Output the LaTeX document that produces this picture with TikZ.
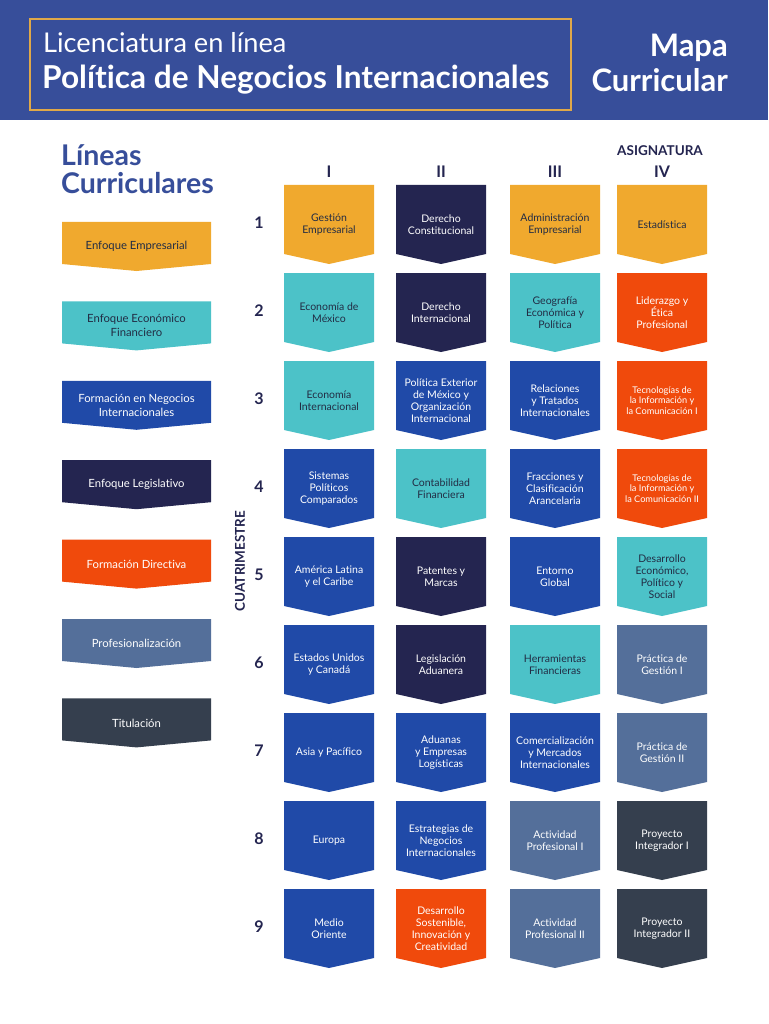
\documentclass[tikz,border=0pt]{standalone}
\usepackage{fontspec}
\setmainfont{Lato}[Ligatures=NoCommon]
\usetikzlibrary{positioning}
\definecolor{color1}{RGB}{240,169,46}
\definecolor{color2}{RGB}{76,194,200}
\definecolor{color3}{RGB}{32,74,168}
\definecolor{color4}{RGB}{36,37,80}
\definecolor{color5}{RGB}{240,74,12}
\definecolor{color6}{RGB}{84,111,154}
\definecolor{color7}{RGB}{53,63,78}
\definecolor{color8}{RGB}{55,78,154}
\definecolor{color9}{RGB}{224,168,72}
\definecolor{color10}{RGB}{34,44,68}

\begin{document}
\begin{tikzpicture}[x=1pt,y=-1pt,
  punta/.style 2 args={fill=white,
    path picture={\fill[#1] (path picture bounding box.north west)
      -- (path picture bounding box.north east)
      -- ([yshift=#2]path picture bounding box.south east)
      -- (path picture bounding box.south)
      -- ([yshift=#2]path picture bounding box.south west) -- cycle;}},
  materia/.style 2 args={punta={#1}{10pt}, text=#2, minimum width=90pt,
    minimum height=79pt, inner sep=1pt, align=center,
    font=\fontsize{10.5}{11.8}\selectfont},
  linea/.style 2 args={punta={#1}{7pt}, text=#2, minimum width=149pt,
    minimum height=49pt, inner sep=1pt, align=center,
    font=\fontsize{11.3}{14}\selectfont},
  empresa/.style={materia={color1}{color10}},
  economia/.style={materia={color2}{color10}},
  negocios/.style={materia={color3}{white}},
  legis/.style={materia={color4}{white}},
  directiva/.style={materia={color5}{white}},
  profes/.style={materia={color6}{white}},
  titul/.style={materia={color7}{white}},
  numero/.style={inner sep=0pt, text=color4, font=\bfseries\fontsize{16}{18}\selectfont},
  letrero/.style={inner sep=0pt, text=color4, font=\bfseries\fontsize{13.5}{16}\selectfont}]

\useasboundingbox (0,0) rectangle (768,1024);
\fill[white] (0,0) rectangle (768,1024);

% encabezado
\fill[color8] (0,0) rectangle (768,120);
\draw[color9, line width=1.5pt] (30,19) rectangle (571,110);
\node[anchor=west, inner sep=0pt, text=white, font=\fontsize{27.2}{30}\selectfont] (lic) at (43,43) {Licenciatura en línea};
\node[anchor=west, inner sep=0pt, text=white, font=\bfseries\fontsize{31.6}{34}\selectfont] (pol) at (42,80) {Política de Negocios Internacionales};
\node[anchor=east, inner sep=0pt, text=white, font=\bfseries\fontsize{31}{34}\selectfont] (mapa) at (728,48) {Mapa};
\node[anchor=east, inner sep=0pt, text=white, font=\bfseries\fontsize{31}{34}\selectfont] (curr) at (728,80) {Curricular};

% lineas curriculares
\node[anchor=west, inner sep=0pt, text=color8, font=\bfseries\fontsize{28.5}{32}\selectfont] (lin) at (61,155) {Líneas};
\node[anchor=west, inner sep=0pt, text=color8, font=\bfseries\fontsize{28.5}{32}\selectfont] (cur) at (61,183) {Curriculares};

\node[linea={color1}{color10}] (l1) at (136.5,246.5) {Enfoque Empresarial};
\node[linea={color2}{color10}, below=30pt of l1] (l2) {Enfoque Económico\\Financiero};
\node[linea={color3}{white}, below=30pt of l2] (l3) {Formación en Negocios\\Internacionales};
\node[linea={color4}{white}, below=30pt of l3] (l4) {Enfoque Legislativo};
\node[linea={color5}{white}, below=30pt of l4] (l5) {Formación Directiva};
\node[linea={color6}{white}, below=30pt of l5] (l6) {Profesionalización};
\node[linea={color7}{white}, below=30pt of l6] (l7) {Titulación};

% cuatrimestre 1
\node[empresa] (m11) at (329,224.5) {Gestión\\Empresarial};
\node[legis] (m12) at (441,224.5) {Derecho\\Constitucional};
\node[empresa] (m13) at (555,224.5) {Administración\\Empresarial};
\node[empresa] (m14) at (662,224.5) {Estadística};

% cuatrimestre 2
\node[economia] (m21) at (329,312.5) {Economía de\\México};
\node[legis] (m22) at (441,312.5) {Derecho\\Internacional};
\node[economia] (m23) at (555,312.5) {Geografía\\Económica y\\Política};
\node[directiva] (m24) at (662,312.5) {Liderazgo y\\Ética\\Profesional};

% cuatrimestre 3
\node[economia] (m31) at (329,400.5) {Economía\\Internacional};
\node[negocios] (m32) at (441,400.5) {Política Exterior\\de México y\\Organización\\Internacional};
\node[negocios] (m33) at (555,400.5) {Relaciones\\y Tratados\\Internacionales};
\node[directiva, font=\fontsize{9.2}{10.8}\selectfont] (m34) at (662,400.5) {Tecnologías de\\la Información y\\la Comunicación I};

% cuatrimestre 4
\node[negocios] (m41) at (329,488.5) {Sistemas\\Políticos\\Comparados};
\node[economia] (m42) at (441,488.5) {Contabilidad\\Financiera};
\node[negocios] (m43) at (555,488.5) {Fracciones y\\Clasificación\\Arancelaria};
\node[directiva, font=\fontsize{9.2}{10.8}\selectfont] (m44) at (662,488.5) {Tecnologías de\\la Información y\\la Comunicación II};

% cuatrimestre 5
\node[negocios] (m51) at (329,576.5) {América Latina\\y el Caribe};
\node[legis] (m52) at (441,576.5) {Patentes y\\Marcas};
\node[negocios] (m53) at (555,576.5) {Entorno\\Global};
\node[economia] (m54) at (662,576.5) {Desarrollo\\Económico,\\Político y\\Social};

% cuatrimestre 6
\node[negocios] (m61) at (329,664.5) {Estados Unidos\\y Canadá};
\node[legis] (m62) at (441,664.5) {Legislación\\Aduanera};
\node[economia] (m63) at (555,664.5) {Herramientas\\Financieras};
\node[profes] (m64) at (662,664.5) {Práctica de\\Gestión I};

% cuatrimestre 7
\node[negocios] (m71) at (329,752.5) {Asia y Pacífico};
\node[negocios] (m72) at (441,752.5) {Aduanas\\y Empresas\\Logísticas};
\node[negocios] (m73) at (555,752.5) {Comercialización\\y Mercados\\Internacionales};
\node[profes] (m74) at (662,752.5) {Práctica de\\Gestión II};

% cuatrimestre 8
\node[negocios] (m81) at (329,840.5) {Europa};
\node[negocios] (m82) at (441,840.5) {Estrategias de\\Negocios\\Internacionales};
\node[profes] (m83) at (555,840.5) {Actividad\\Profesional I};
\node[titul] (m84) at (662,840.5) {Proyecto\\Integrador I};

% cuatrimestre 9
\node[negocios] (m91) at (329,928.5) {Medio\\Oriente};
\node[directiva] (m92) at (441,928.5) {Desarrollo\\Sostenible,\\Innovación y\\Creatividad};
\node[profes] (m93) at (555,928.5) {Actividad\\Profesional II};
\node[titul] (m94) at (662,928.5) {Proyecto\\Integrador II};

% asignaturas y cuatrimestres
\node[letrero] (asig) at (660,151) {ASIGNATURA};
\node[numero, above=7pt of m11] (a1) {I};
\node[numero, above=7pt of m12] (a2) {II};
\node[numero, above=7pt of m13] (a3) {III};
\node[numero, above=7pt of m14] (a4) {IV};

\node[letrero, rotate=90] (cuat) at (240,561) {CUATRIMESTRE};
\foreach \r in {1,...,9}
  \node[numero, left=20pt of m\r1, yshift=2pt] (n\r) {\r};

\end{tikzpicture}
\end{document}
